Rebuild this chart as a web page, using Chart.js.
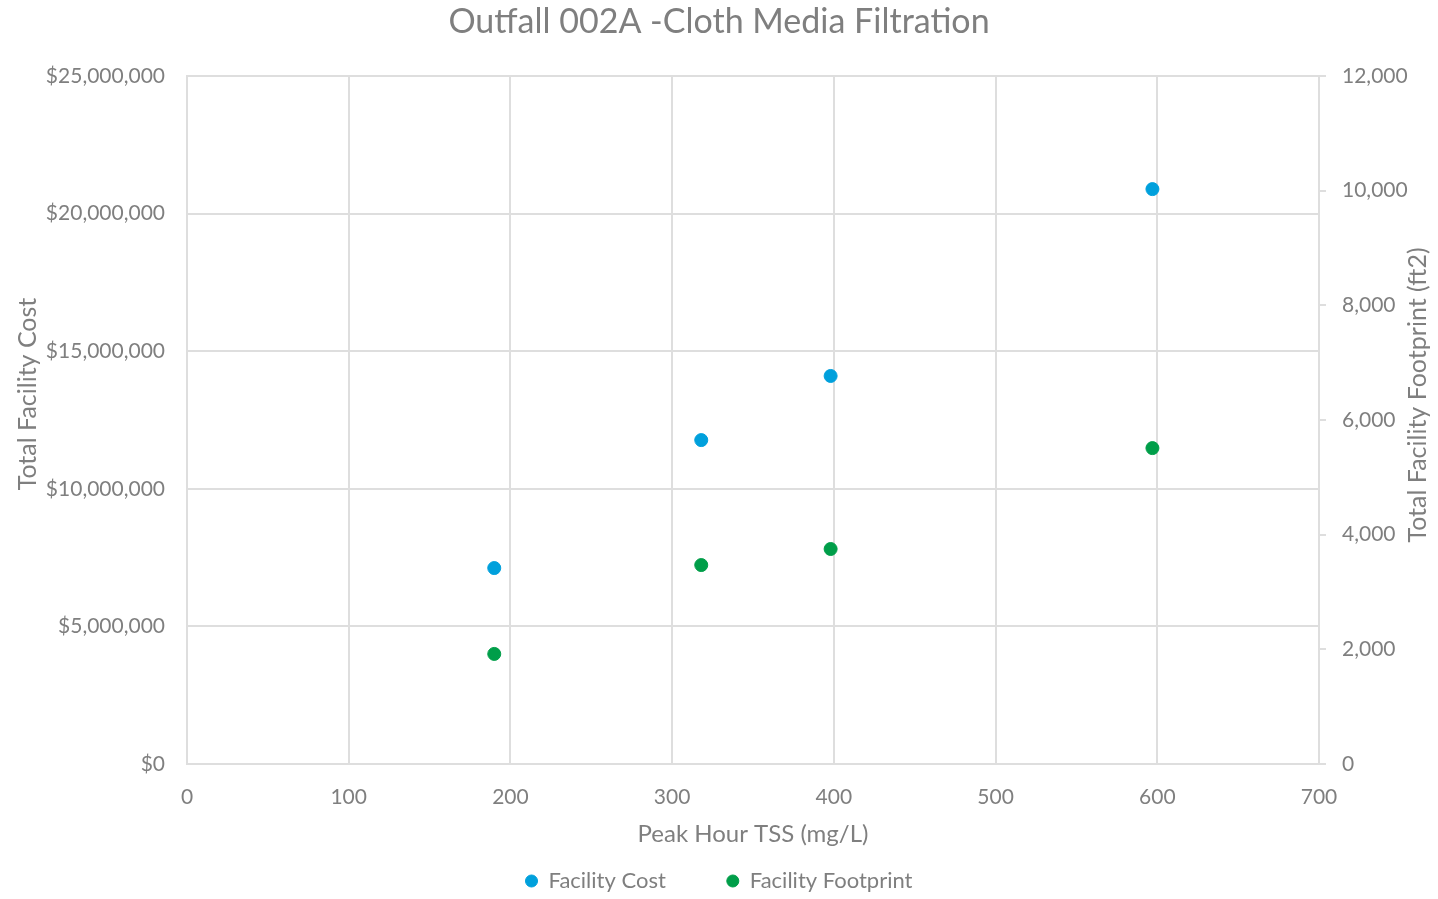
<!DOCTYPE html>
<html>
<head>
<meta charset="utf-8">
<title>Outfall 002A -Cloth Media Filtration</title>
<script src="https://cdn.jsdelivr.net/npm/chart.js@4.4.0/dist/chart.umd.min.js"></script>
<style>
  html, body { margin: 0; padding: 0; background: #fff; }
  #wrap { width: 1438px; height: 899px; }
</style>
</head>
<body>
<div id="wrap"><canvas id="myChart" width="1438" height="899"></canvas></div>
<script>
// values
const peakTss = [190, 318, 398, 597];
const facilityCost = [7120000, 11770000, 14100000, 20890000];
const facilityFootprint = [1920, 3470, 3750, 5510];
const seriesNames = ["Facility Cost", "Facility Footprint"];
const yTitles = ["Total Facility Cost", "Total Facility Footprint (ft2)"];

const grey = "#7f7f7f";
const gridGrey = "#dedede";
const fontFamily = "Lato, 'Open Sans', sans-serif";

// both y titles sit a bit above the plot middle and read bottom-to-top
const yAxisTitles = {
    id: "yAxisTitles",
    afterDraw(chart) {
        const ctx = chart.ctx;
        const spots = [[28, 394], [1418, 395]];
        ctx.save();
        ctx.font = "25px " + fontFamily;
        ctx.fillStyle = grey;
        ctx.textAlign = "center";
        ctx.textBaseline = "middle";
        yTitles.forEach((t, i) => {
            ctx.save();
            ctx.translate(spots[i][0], spots[i][1]);
            ctx.rotate(-Math.PI / 2);
            ctx.fillText(t, 0, 0);
            ctx.restore();
        });
        ctx.restore();
    }
};

const ctx = document.getElementById("myChart").getContext("2d");
new Chart(ctx, {
    type: "scatter",
    data: {
        datasets: [
            {
                label: seriesNames[0],
                data: peakTss.map((x, i) => ({ x: x, y: facilityCost[i] })),
                backgroundColor: "#00a0dc",
                borderColor: "#00a0dc",
                pointRadius: 6.5,
                yAxisID: "y"
            },
            {
                label: seriesNames[1],
                data: peakTss.map((x, i) => ({ x: x, y: facilityFootprint[i] })),
                backgroundColor: "#009e49",
                borderColor: "#009e49",
                pointRadius: 6.5,
                yAxisID: "y2"
            }
        ]
    },
    options: {
        responsive: false,
        animation: false,
        layout: { padding: { top: 0, left: 0, right: 0, bottom: -3 } },
        plugins: {
            title: {
                display: true,
                text: "Outfall 002A -Cloth Media Filtration",
                color: grey,
                font: { family: fontFamily, size: 34, weight: "normal" },
                padding: { top: 1.6, bottom: 33.6 }
            },
            legend: {
                position: "bottom",
                labels: {
                    usePointStyle: true,
                    pointStyle: "circle",
                    boxWidth: 12,
                    boxHeight: 8.5,
                    padding: 61,
                    color: grey,
                    font: { family: fontFamily, size: 22 }
                }
            },
            tooltip: { enabled: false }
        },
        scales: {
            x: {
                type: "linear",
                min: 0,
                max: 700,
                afterFit(scale) { scale.height = 45; },
                ticks: {
                    stepSize: 100,
                    padding: 21,
                    color: grey,
                    font: { family: fontFamily, size: 21 }
                },
                grid: { color: gridGrey, lineWidth: 2, drawTicks: false },
                border: { color: gridGrey, width: 2 },
                title: {
                    display: true,
                    text: "Peak Hour TSS (mg/L)",
                    color: grey,
                    font: { family: fontFamily, size: 24 },
                    padding: { top: 0, bottom: -39.4 }
                }
            },
            y: {
                position: "left",
                min: 0,
                max: 25000000,
                afterFit(scale) { scale.width = 187; },
                ticks: {
                    stepSize: 5000000,
                    padding: 22,
                    color: grey,
                    font: { family: fontFamily, size: 21 },
                    callback: v => "$" + v.toLocaleString("en-US")
                },
                grid: { color: gridGrey, lineWidth: 2, drawTicks: false },
                border: { color: gridGrey, width: 2 }
            },
            y2: {
                position: "right",
                min: 0,
                max: 12000,
                afterFit(scale) { scale.width = 119; },
                ticks: {
                    stepSize: 2000,
                    padding: 16,
                    color: grey,
                    font: { family: fontFamily, size: 21 },
                    callback: v => v.toLocaleString("en-US")
                },
                grid: { drawOnChartArea: false, color: gridGrey, lineWidth: 2, tickLength: 7 },
                border: { color: gridGrey, width: 2 }
            }
        }
    },
    plugins: [yAxisTitles]
});
</script>
</body>
</html>
